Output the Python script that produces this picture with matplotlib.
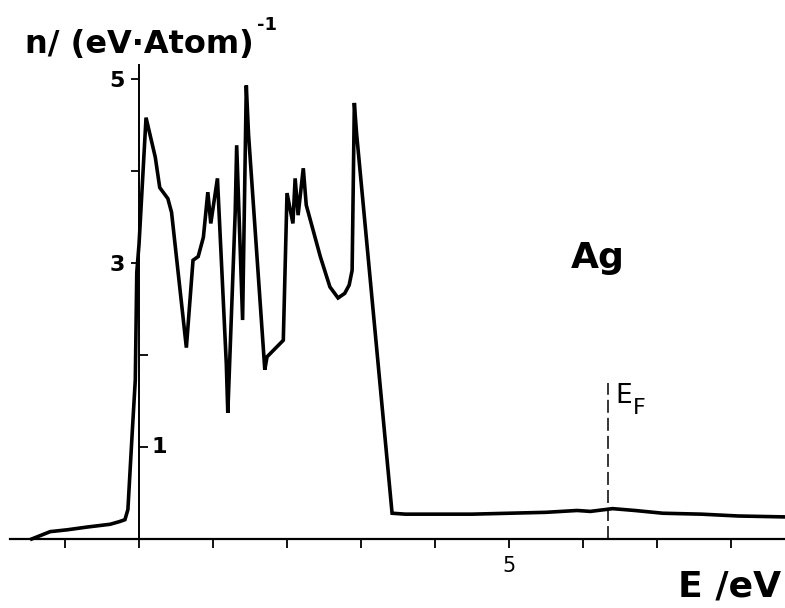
import numpy as np
import matplotlib
matplotlib.use("Agg")
import matplotlib.pyplot as plt
from matplotlib.ticker import FixedLocator, FixedFormatter

# density of states of Ag
energy = [-1.45, -1.20, -0.97, -0.70, -0.39, -0.26, -0.19, -0.15, -0.09, -0.05,
          -0.03, 0.00, 0.095, 0.22, 0.28, 0.39, 0.44, 0.64, 0.73, 0.80,
          0.87, 0.93, 0.97, 1.06, 1.18, 1.20, 1.30, 1.32, 1.40,
          1.45, 1.48, 1.70, 1.73, 1.95, 2.00, 2.08, 2.11, 2.15, 2.22,
          2.26, 2.45, 2.58, 2.69, 2.78, 2.84, 2.88, 2.91, 2.94,
          3.42, 3.60, 4.00, 4.50, 5.00, 5.50, 5.92, 6.10, 6.40, 6.70,
          7.08, 7.60, 8.10, 8.73]
dos = [0.00, 0.08, 0.10, 0.13, 0.16, 0.19, 0.21, 0.32, 1.18, 1.73,
       2.90, 3.20, 4.58, 4.15, 3.82, 3.70, 3.55, 2.08, 3.03, 3.07,
       3.28, 3.77, 3.43, 3.92, 1.90, 1.37, 3.55, 4.28, 2.38,
       4.93, 4.40, 1.84, 1.98, 2.16, 3.76, 3.43, 3.92, 3.52, 4.03,
       3.63, 3.07, 2.74, 2.62, 2.67, 2.76, 2.92, 4.74, 4.41,
       0.28, 0.27, 0.27, 0.27, 0.28, 0.29, 0.31, 0.30, 0.33, 0.31,
       0.28, 0.27, 0.25, 0.24]

E_FERMI = 6.34
x_ticks = list(range(-1, 9))
x_tick_labels = ["5" if t == 5 else "" for t in x_ticks]
y_major = [3, 4, 5]
y_major_labels = ["3", "", "5"]
y_minor = [1, 2]

# pixel mapping of the original: E=0 at px 139, 74 px/eV; n=0 at py 539, 92 px/unit
X0, SX, Y0, SY = 139.0, 74.0, 539.0, 92.0
W, H = 785, 608

fig = plt.figure(figsize=(W / 100, H / 100), dpi=100)
ax = fig.add_axes([0, 0, 1, 1])
ax.set_xlim((0 - X0) / SX, (W - X0) / SX)
ax.set_ylim((Y0 - H) / SY, Y0 / SY)

ax.plot(energy, dos, color="black", lw=2.6, solid_joinstyle="miter", zorder=3)
ax.plot([E_FERMI, E_FERMI], [0, 1.7], color="black", lw=1.1, dashes=(8.5, 3.3))

for s in ("top", "right"):
    ax.spines[s].set_visible(False)
ax.spines["bottom"].set_position(("data", 0))
ax.spines["left"].set_position(("data", 0))
ax.spines["bottom"].set_bounds((10 - X0) / SX, (W - X0) / SX)
ax.spines["left"].set_bounds(0, (Y0 - 65) / SY)
ax.spines["bottom"].set_linewidth(1.6)
ax.spines["left"].set_linewidth(1.4)

ax.xaxis.set_major_locator(FixedLocator(x_ticks))
ax.xaxis.set_major_formatter(FixedFormatter(x_tick_labels))
ax.tick_params(axis="x", direction="out", length=6.5, width=1.3, pad=6,
               labelsize=15)
ax.yaxis.set_major_locator(FixedLocator(y_major))
ax.yaxis.set_major_formatter(FixedFormatter(y_major_labels))
ax.yaxis.set_minor_locator(FixedLocator(y_minor))
ax.tick_params(axis="y", which="major", direction="out", length=6, width=1.3,
               pad=4, labelsize=16)
ax.tick_params(axis="y", which="minor", direction="in", length=6.5, width=1.3)
for lab in ax.get_yticklabels():
    lab.set_fontweight("bold")
ax.text(0.17, 1, "1", fontsize=16, fontweight="bold", ha="left", va="center")

ax.text(E_FERMI + 0.1, 1.55, "E", fontsize=19, ha="left", va="center")
ax.text(E_FERMI + 0.33, 1.42, "F", fontsize=16, ha="left", va="center")
ax.text(5.84, 3.05, "Ag", fontsize=26, fontweight="bold", ha="left", va="center")

fig.text(25 / W, 1 - 53 / H, "n/ (eV·Atom)", fontsize=23, fontweight="bold",
         ha="left", va="baseline")
fig.text(257 / W, 1 - 30 / H, "-1", fontsize=13, fontweight="bold",
         ha="left", va="baseline")
fig.text(781 / W, 1 - 597 / H, "E /eV", fontsize=26, fontweight="bold",
         ha="right", va="baseline")

fig.savefig("out.png", dpi=100)
